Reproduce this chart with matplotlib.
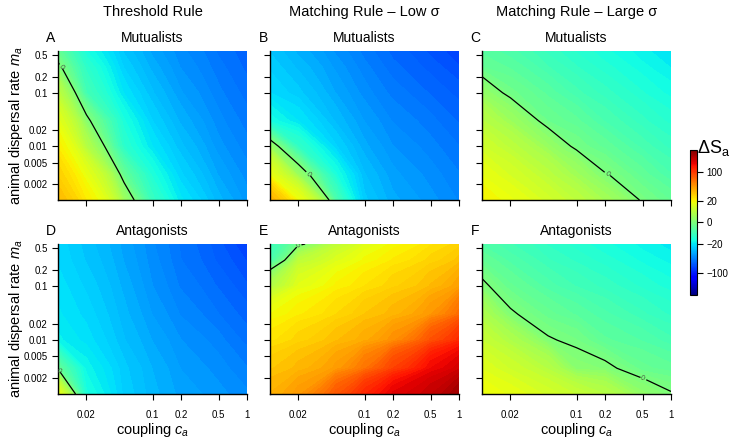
import numpy as np
import matplotlib
matplotlib.use("Agg")
import matplotlib.pyplot as plt
from matplotlib.colors import FuncNorm
from matplotlib.cm import ScalarMappable

plt.rcParams['font.family'] = ['Liberation Sans', 'DejaVu Sans']
plt.rcParams['mathtext.fontset'] = 'custom'
plt.rcParams['mathtext.rm'] = 'Liberation Sans'
plt.rcParams['mathtext.it'] = 'Liberation Sans:italic'
plt.rcParams['mathtext.bf'] = 'Liberation Sans:bold'

# ---------------- data ----------------
coupling = [0.01, 0.02, 0.05, 0.1, 0.2, 0.5, 1.0]          # c_a (columns)
dispersal = [0.001, 0.003, 0.01, 0.03, 0.1, 0.3, 0.6]      # m_a (rows, low -> high)

threshold_mutualists = [
    [35.0, 21.9, 3.5, -9.0, -19.5, -31.0, -39.6],
    [28.5, 15.5, -2.8, -13.5, -23.9, -35.2, -43.1],
    [21.4, 6.5, -11.0, -20.0, -28.6, -39.9, -47.0],
    [14.9, 1.0, -14.0, -24.3, -32.8, -43.4, -50.5],
    [7.8, -7.0, -20.3, -28.9, -37.5, -47.3, -54.3],
    [0.8, -10.6, -24.6, -33.2, -41.4, -50.8, -57.8],
    [-2.5, -14.3, -27.3, -35.9, -43.6, -53.0, -60.0],
]
matching_low_mutualists = [
    [38, 17, -6, -26, -34, -40, -45],
    [16, 3, -14, -29, -37, -43, -48],
    [3, -10, -24, -34, -41, -47, -52],
    [-15, -20, -30, -38, -45, -51, -57],
    [-22, -26, -35, -43, -50, -57, -63],
    [-25, -30, -39, -47, -55, -63, -70],
    [-27, -33, -42, -50, -58, -67, -75],
]
matching_large_mutualists = [
    [20.0, 16.4, 11.6, 8.0, 4.4, -0.6, -2.8],
    [15.9, 12.3, 7.5, 3.9, 0.1, -3.2, -5.8],
    [11.3, 7.7, 2.9, -1.0, -3.1, -6.4, -9.0],
    [7.2, 3.6, -1.9, -3.4, -6.0, -9.4, -11.9],
    [2.6, -1.4, -4.1, -6.7, -9.2, -12.6, -15.2],
    [-2.6, -3.9, -7.0, -9.6, -12.2, -15.6, -18.1],
    [-4.0, -5.5, -8.9, -11.5, -14.0, -17.4, -20.0],
]
threshold_antagonists = [
    [16.0, -14, -25, -31, -36, -40, -44],
    [-2.6, -17, -26, -32, -38, -43, -48],
    [-17.5, -21, -29, -35, -41, -47, -54],
    [-19.6, -23, -31, -38, -45, -52, -59],
    [-21.0, -25, -33, -41, -49, -57, -65],
    [-22.6, -27, -35, -43, -52, -62, -71],
    [-23.0, -28, -36, -44, -53, -64, -77],
]
matching_low_antagonists = [
    [38.0, 47.0, 79.0, 115.0, 155.0, 185.0, 230.0],
    [31.5, 36.0, 46.0, 64.0, 94.0, 142.0, 170.0],
    [23.6, 28.0, 34.5, 40.0, 51.0, 83.0, 112.0],
    [18.0, 21.7, 26.7, 32.0, 36.5, 48.0, 68.0],
    [6.0, 14.7, 20.5, 24.3, 28.6, 35.1, 44.0],
    [-6.0, 8.0, 13.7, 18.6, 22.4, 27.8, 33.0],
    [-8.0, -1.1, 8.2, 14.0, 18.7, 23.8, 28.0],
]
matching_large_antagonists = [
    [18.0, 15.5, 12.0, 9.5, 7.0, 2.0, 0.2],
    [14.0, 10.8, 6.7, 1.2, 0.7, -2.4, -3.3],
    [9.6, 5.7, 0.25, -0.8, -3.5, -4.9, -6.8],
    [5.6, 0.35, -2.3, -3.9, -5.6, -8.1, -10.1],
    [0.6, -2.5, -5.4, -7.2, -9.0, -11.7, -13.7],
    [-2.6, -5.2, -8.2, -10.1, -12.1, -14.9, -16.9],
    [-5.0, -7.0, -10.0, -12.0, -14.0, -17.0, -19.0],
]

column_titles = ["Threshold Rule", "Matching Rule \u2013 Low \u03c3", "Matching Rule \u2013 Large \u03c3"]
row_titles = ["Mutualists", "Antagonists"]
panel_letters = ["A", "B", "C", "D", "E", "F"]
x_ticks = [0.02, 0.1, 0.2, 0.5, 1]
x_tick_labels = ["0.02", "0.1", "0.2", "0.5", "1"]
y_ticks = [0.002, 0.005, 0.01, 0.02, 0.1, 0.2, 0.5]
y_tick_labels = ["0.002", "0.005", "0.01", "0.02", "0.1", "0.2", "0.5"]
cbar_ticks = [-100, -20, 0, 20, 100]
cbar_tick_labels = ["\u2212100", "\u221220", "0", "20", "100"]

grids = [[threshold_mutualists, matching_low_mutualists, matching_large_mutualists],
         [threshold_antagonists, matching_low_antagonists, matching_large_antagonists]]

# ---------------- colour scale ----------------
K = 13.0
VMAX = 275.0
def fwd(x):
    x = np.asarray(x, dtype=float)
    return np.sign(x) * np.log1p(np.abs(x) / K)
def inv(y):
    y = np.asarray(y, dtype=float)
    return np.sign(y) * K * np.expm1(np.abs(y))
norm = FuncNorm((fwd, inv), vmin=-VMAX, vmax=VMAX)
levels = inv(np.linspace(fwd(-VMAX), fwd(VMAX), 101))
cmap = plt.get_cmap('jet')

# ---------------- layout ----------------
W, H = 733, 441
fig = plt.figure(figsize=(W / 100, H / 100), dpi=100)
col_left = [58, 270, 482]
ax_w = 189
row_top = [51, 244]
row_h = [149, 150]

def fx(px):
    return px / W
def fy(py):
    return 1 - py / H

for r in range(2):
    for c in range(3):
        left, top, h = col_left[c], row_top[r], row_h[r]
        ax = fig.add_axes([fx(left), fy(top + h), ax_w / W, h / H])
        ax.set_xscale('log')
        ax.set_yscale('log')
        Z = np.array(grids[r][c], dtype=float)
        ax.contourf(coupling, dispersal, Z, levels=levels, cmap=cmap, norm=norm,
                    antialiased=False)
        cs = ax.contour(coupling, dispersal, Z, levels=[0], colors='black', linewidths=0.9)
        ax.clabel(cs, fmt={0: '0'}, fontsize=5, inline=True, inline_spacing=1, colors='#445544')
        ax.set_xlim(0.01, 1)
        ax.set_ylim(0.001, 0.6)
        ax.set_xticks(x_ticks)
        ax.set_yticks(y_ticks)
        ax.minorticks_off()
        if r == 1:
            ax.set_xticklabels(x_tick_labels)
            ax.set_xlabel('coupling $c_a$', fontsize=10.5, labelpad=1)
        else:
            ax.set_xticklabels([])
        if c == 0:
            ax.set_yticklabels(y_tick_labels)
            ax.set_ylabel('animal dispersal rate $m_a$', fontsize=10.5, labelpad=-1)
        else:
            ax.set_yticklabels([])
        ax.tick_params(direction='out', length=4, width=0.8, labelsize=7, color='black')
        ax.tick_params(axis='x', pad=7.5)
        ax.tick_params(axis='y', pad=3.5)
        for s in ['top', 'right']:
            ax.spines[s].set_visible(False)
        for s in ['left', 'bottom']:
            ax.spines[s].set_linewidth(1.0)
        fig.text(fx(left + ax_w / 2), fy(top - 13), row_titles[r], ha='center', va='center', fontsize=10)
        fig.text(fx(left - 7), fy(top - 13), panel_letters[r * 3 + c], ha='center', va='center', fontsize=10)

for c in range(3):
    fig.text(fx(col_left[c] + ax_w / 2), fy(12), column_titles[c], ha='center', va='center', fontsize=10.5)

# colour bar
cax = fig.add_axes([fx(690), fy(295), 7 / W, 145 / H])
sm = ScalarMappable(norm=norm, cmap=cmap)
cb = fig.colorbar(sm, cax=cax)
cb.set_ticks(cbar_ticks)
cb.set_ticklabels(cbar_tick_labels)
cb.ax.tick_params(labelsize=7, length=4, width=0.8, pad=3)
cb.ax.minorticks_off()
cb.outline.set_linewidth(0.8)
fig.text(fx(714), fy(148), r'$\Delta\mathrm{S}_\mathrm{a}$', ha='center', va='center', fontsize=13)

fig.savefig('out.png', dpi=100)
